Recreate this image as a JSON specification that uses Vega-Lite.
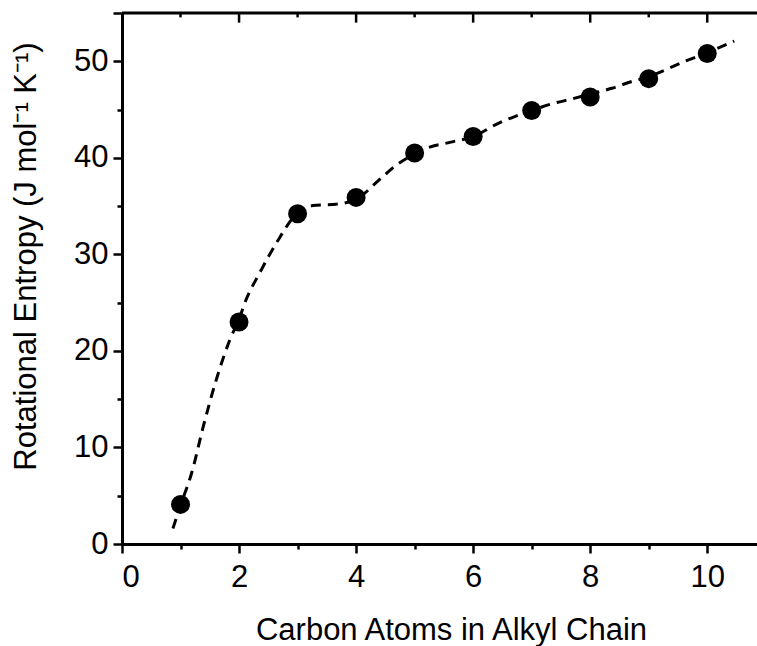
{
  "$schema": "https://vega.github.io/schema/vega-lite/v6.json",
  "autosize": "none",
  "width": 635,
  "height": 531,
  "padding": {"left": 122, "top": 13, "right": 0, "bottom": 102},
  "background": "white",
  "config": {
    "view": {"stroke": null},
    "font": "Liberation Sans",
    "axis": {
      "grid": false,
      "domainColor": "black",
      "domainWidth": 3,
      "tickColor": "black",
      "tickWidth": 2.5,
      "labelColor": "black",
      "labelFontSize": 31,
      "labelFont": "Liberation Sans",
      "titleColor": "black",
      "titleFontSize": 31,
      "titleFont": "Liberation Sans",
      "titleFontWeight": "normal"
    }
  },
  "datasets": {
    "points": [
      {"n": 1, "s": 4.1},
      {"n": 2, "s": 23.0},
      {"n": 3, "s": 34.2},
      {"n": 4, "s": 35.9},
      {"n": 5, "s": 40.5},
      {"n": 6, "s": 42.2},
      {"n": 7, "s": 44.9},
      {"n": 8, "s": 46.3},
      {"n": 9, "s": 48.2},
      {"n": 10, "s": 50.8}
    ],
    "curve": [
      {"n": 0.87, "s": 1.6},
      {"n": 1.0, "s": 4.0},
      {"n": 1.19, "s": 7.35},
      {"n": 1.39, "s": 12.2},
      {"n": 1.61, "s": 17.0},
      {"n": 1.84, "s": 21.1},
      {"n": 2.0, "s": 23.3},
      {"n": 2.12, "s": 25.3},
      {"n": 2.35, "s": 28.05},
      {"n": 2.64, "s": 31.2},
      {"n": 3.0, "s": 34.3},
      {"n": 3.26, "s": 35.05},
      {"n": 3.66, "s": 35.2},
      {"n": 4.0, "s": 35.7},
      {"n": 4.39, "s": 37.7},
      {"n": 4.7, "s": 39.3},
      {"n": 5.0, "s": 40.4},
      {"n": 5.21, "s": 41.0},
      {"n": 5.6, "s": 41.6},
      {"n": 6.0, "s": 42.2},
      {"n": 6.44, "s": 43.6},
      {"n": 6.72, "s": 44.3},
      {"n": 7.0, "s": 44.9},
      {"n": 7.35, "s": 45.6},
      {"n": 7.69, "s": 46.1},
      {"n": 8.0, "s": 46.6},
      {"n": 8.37, "s": 47.2},
      {"n": 8.71, "s": 47.9},
      {"n": 9.0, "s": 48.4},
      {"n": 9.28, "s": 49.1},
      {"n": 9.62, "s": 50.0},
      {"n": 10.0, "s": 50.9},
      {"n": 10.46, "s": 52.1}
    ],
    "frame": [{"s": 55}],
    "topMajor": [{"n": 2}, {"n": 4}, {"n": 6}, {"n": 8}, {"n": 10}],
    "topMinor": [{"n": 1}, {"n": 3}, {"n": 5}, {"n": 7}, {"n": 9}]
  },
  "layer": [
    {
      "data": {"name": "curve"},
      "mark": {"type": "line", "interpolate": "monotone", "color": "black", "strokeWidth": 3, "strokeDash": [10, 7]},
      "encoding": {
        "x": {
          "field": "n", "type": "quantitative",
          "scale": {"domain": [0, 10.85], "nice": false, "zero": false},
          "axis": {
            "orient": "bottom",
            "values": [0, 1, 2, 3, 4, 5, 6, 7, 8, 9, 10],
            "format": "d",
            "labelExpr": "datum.value % 2 === 0 ? datum.label : ''",
            "tickSize": {"condition": {"test": "datum.value % 2 === 1", "value": 5}, "value": 9},
            "labelPadding": 9,
            "title": "Carbon Atoms in Alkyl Chain",
            "titleX": 329,
            "titleY": 95,
            "titleBaseline": "alphabetic",
            "titleAnchor": "middle"
          }
        },
        "y": {
          "field": "s", "type": "quantitative",
          "scale": {"domain": [0, 55], "nice": false},
          "axis": {
            "values": [0, 5, 10, 15, 20, 25, 30, 35, 40, 45, 50, 55],
            "format": "d",
            "labelExpr": "datum.value % 10 === 0 ? datum.label : ''",
            "tickSize": {"condition": {"test": "datum.value % 10 === 5 && datum.value < 55", "value": 5}, "value": 9},
            "labelPadding": 5,
            "title": "Rotational Entropy (J mol⁻¹ K⁻¹)",
            "titleX": -87,
            "titleY": 243,
            "titleAngle": -90,
            "titleBaseline": "alphabetic",
            "titleAnchor": "middle"
          }
        }
      }
    },
    {
      "data": {"name": "points"},
      "mark": {"type": "point", "shape": "circle", "filled": true, "color": "black", "opacity": 1, "size": 360},
      "encoding": {
        "x": {"field": "n", "type": "quantitative"},
        "y": {"field": "s", "type": "quantitative"}
      }
    },
    {
      "data": {"name": "frame"},
      "mark": {"type": "rule", "color": "black", "strokeWidth": 3},
      "encoding": {"y": {"field": "s", "type": "quantitative"}}
    },
    {
      "data": {"name": "topMajor"},
      "mark": {"type": "rule", "color": "black", "strokeWidth": 2.5},
      "encoding": {
        "x": {"field": "n", "type": "quantitative"},
        "y": {"datum": 55, "type": "quantitative"},
        "y2": {"datum": 54}
      }
    },
    {
      "data": {"name": "topMinor"},
      "mark": {"type": "rule", "color": "black", "strokeWidth": 2.5},
      "encoding": {
        "x": {"field": "n", "type": "quantitative"},
        "y": {"datum": 55, "type": "quantitative"},
        "y2": {"datum": 54.55}
      }
    }
  ]
}
